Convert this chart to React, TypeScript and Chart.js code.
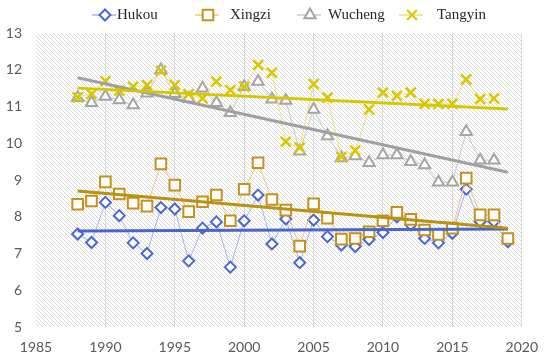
import React, { useEffect, useRef } from "react";
import { Chart, registerables } from "chart.js";

Chart.register(...registerables);

const years = [1988, 1989, 1990, 1991, 1992, 1993, 1994, 1995, 1996, 1997, 1998, 1999, 2000, 2001, 2002, 2003, 2004, 2005, 2006, 2007, 2008, 2009, 2010, 2011, 2012, 2013, 2014, 2015, 2016, 2017, 2018, 2019];

const hukou = [7.53, 7.3, 8.39, 8.03, 7.29, 7.0, 8.25, 8.21, 6.8, 7.69, 7.86, 6.63, 7.89, 8.59, 7.26, 7.94, 6.75, 7.91, 7.46, 7.23, 7.19, 7.38, 7.57, 8.0, 7.78, 7.41, 7.29, 7.55, 8.75, 7.87, 7.87, 7.32];
const xingzi = [8.34, 8.43, 8.95, 8.62, 8.37, 8.29, 9.44, 8.86, 8.14, 8.41, 8.59, 7.89, 8.75, 9.47, 8.47, 8.18, 7.2, 8.35, 7.96, 7.39, 7.41, 7.59, 7.89, 8.12, 7.93, 7.64, 7.52, 7.69, 9.05, 8.05, 8.05, 7.41];
const wucheng = [11.24, 11.1, 11.27, 11.18, 11.04, 11.36, 11.99, 11.35, 11.22, 11.5, 11.1, 10.83, 11.54, 11.68, 11.2, 11.16, 9.78, 10.92, 10.2, 9.6, 9.65, 9.47, 9.68, 9.68, 9.5, 9.41, 8.94, 8.94, 10.31, 9.54, 9.54, null];
const tangyin = [11.25, 11.34, 11.69, 11.43, 11.54, 11.58, 11.97, 11.58, 11.34, 11.22, 11.68, 11.45, 11.54, 12.13, 11.92, 10.04, 9.88, 11.61, 11.24, 9.63, 9.8, 10.92, 11.38, 11.29, 11.38, 11.07, 11.07, 11.07, 11.74, 11.2, 11.22, null];

const trendYears = [1988, 2019];
const trendHukou = [7.61, 7.67];
const trendXingzi = [8.7, 7.69];
const trendWucheng = [11.78, 9.21];
const trendTangyin = [11.5, 10.93];

const seriesNames = ["Hukou", "Xingzi", "Wucheng", "Tangyin"];
const xTicks = [1985, 1990, 1995, 2000, 2005, 2010, 2015, 2020];
const yTicks = [5, 6, 7, 8, 9, 10, 11, 12, 13];

const markerColors = ["#4A68D0", "#C4921C", "#A5A5A5", "#D8C800"];
const thinColors = ["#A3B4EA", "#F0C48C", "#CACACA", "#EDE27E"];
const trendColors = ["#4A66CC", "#B8930E", "#A0A0A0", "#D6C800"];
const pointStyles = ["rectRot", "rect", "triangle", "crossRot"];
const pointRadii = [5.5, 7.5, 6.5, 7];

const legendLineX = [92, 195, 297, 399];
const legendTextX = [117, 230, 328, 437];

function toPts(vals: (number | null)[], xs: number[]) {
  const out: { x: number; y: number }[] = [];
  vals.forEach((v, i) => {
    if (v !== null) out.push({ x: xs[i], y: v });
  });
  return out;
}

function drawMarker(ctx: CanvasRenderingContext2D, i: number, x: number, y: number) {
  ctx.save();
  ctx.strokeStyle = markerColors[i];
  ctx.fillStyle = "#ffffff";
  ctx.lineWidth = 2;
  ctx.beginPath();
  const r = pointRadii[i];
  if (i === 0) {
    ctx.moveTo(x - r, y);
    ctx.lineTo(x, y - r);
    ctx.lineTo(x + r, y);
    ctx.lineTo(x, y + r);
    ctx.closePath();
    ctx.fill();
    ctx.stroke();
  } else if (i === 1) {
    const s = Math.SQRT1_2 * r;
    ctx.rect(x - s, y - s, 2 * s, 2 * s);
    ctx.fill();
    ctx.stroke();
  } else if (i === 2) {
    ctx.moveTo(x, y - r);
    ctx.lineTo(x + Math.sin((2 * Math.PI) / 3) * r, y + 0.5 * r);
    ctx.lineTo(x - Math.sin((2 * Math.PI) / 3) * r, y + 0.5 * r);
    ctx.closePath();
    ctx.fill();
    ctx.stroke();
  } else {
    const d = Math.SQRT1_2 * r;
    ctx.moveTo(x - d, y - d);
    ctx.lineTo(x + d, y + d);
    ctx.moveTo(x + d, y - d);
    ctx.lineTo(x - d, y + d);
    ctx.stroke();
  }
  ctx.restore();
}

export default function App() {
  const ref = useRef<HTMLCanvasElement | null>(null);

  useEffect(() => {
    const canvas = ref.current;
    if (!canvas) return;

    const pc = document.createElement("canvas");
    pc.width = 4;
    pc.height = 4;
    const pctx = pc.getContext("2d")!;
    pctx.fillStyle = "#ffffff";
    pctx.fillRect(0, 0, 4, 4);
    pctx.strokeStyle = "#DADADA";
    pctx.lineWidth = 1;
    pctx.beginPath();
    pctx.moveTo(-1, -1);
    pctx.lineTo(5, 5);
    pctx.moveTo(-1, 3);
    pctx.lineTo(1, 5);
    pctx.moveTo(3, -1);
    pctx.lineTo(5, 1);
    pctx.stroke();

    const bgPlugin = {
      id: "hatchBg",
      beforeDraw(chart: any) {
        const { ctx, chartArea } = chart;
        const pat = ctx.createPattern(pc, "repeat");
        ctx.save();
        ctx.fillStyle = pat;
        ctx.fillRect(chartArea.left, chartArea.top, chartArea.right - chartArea.left, chartArea.bottom - chartArea.top);
        ctx.restore();
      },
    };

    const legendPlugin = {
      id: "customLegend",
      afterDraw(chart: any) {
        const ctx = chart.ctx as CanvasRenderingContext2D;
        const y = 15;
        seriesNames.forEach((name, i) => {
          const x0 = legendLineX[i];
          ctx.save();
          ctx.strokeStyle = thinColors[i];
          ctx.lineWidth = 1.5;
          ctx.beginPath();
          ctx.moveTo(x0, y);
          ctx.lineTo(x0 + 24, y);
          ctx.stroke();
          ctx.restore();
          drawMarker(ctx, i, x0 + 13, y);
          ctx.save();
          ctx.fillStyle = "#262626";
          ctx.font = "15px 'Liberation Serif', serif";
          ctx.textBaseline = "middle";
          ctx.textAlign = "left";
          ctx.fillText(name, legendTextX[i], y);
          ctx.restore();
        });
      },
    };

    const seriesVals = [hukou, xingzi, wucheng, tangyin];
    const trends = [trendHukou, trendXingzi, trendWucheng, trendTangyin];

    const datasets: any[] = [];
    seriesVals.forEach((vals, i) => {
      datasets.push({
        label: seriesNames[i],
        data: toPts(vals, years),
        showLine: true,
        borderColor: thinColors[i],
        borderWidth: 1,
        pointStyle: pointStyles[i],
        pointRadius: pointRadii[i],
        pointBorderColor: markerColors[i],
        pointBackgroundColor: i === 3 ? markerColors[i] : "#ffffff",
        pointBorderWidth: i === 3 ? 2.5 : 2,
        order: 10 - i,
      });
    });
    trends.forEach((t, i) => {
      datasets.push({
        label: seriesNames[i] + " trend",
        data: toPts(t, trendYears),
        showLine: true,
        borderColor: trendColors[i],
        borderWidth: 3,
        pointRadius: 0,
        order: 4 - i,
      });
    });

    const chart = new Chart(canvas, {
      type: "scatter",
      data: { datasets },
      plugins: [bgPlugin, legendPlugin],
      options: {
        responsive: false,
        animation: false,
        layout: { padding: { top: 33, right: 23, left: 0, bottom: 0 } },
        plugins: { legend: { display: false }, tooltip: { enabled: false } },
        scales: {
          x: {
            type: "linear",
            min: xTicks[0],
            max: xTicks[xTicks.length - 1],
            afterBuildTicks(scale: any) {
              scale.ticks = xTicks.map((v) => ({ value: v }));
            },
            afterFit(scale: any) {
              scale.height = 36;
            },
            grid: {
              drawTicks: false,
              color: (c: any) => (c.tick && c.tick.value === xTicks[0] ? "rgba(0,0,0,0)" : "#D9D9D9"),
              lineWidth: 1,
            },
            border: { display: false },
            ticks: {
              padding: 12,
              color: "#595959",
              font: { family: "Lato, 'Open Sans', sans-serif", size: 14 },
              callback: (v: any) => String(v),
            },
          },
          y: {
            type: "linear",
            min: yTicks[0],
            max: yTicks[yTicks.length - 1],
            afterBuildTicks(scale: any) {
              scale.ticks = yTicks.map((v) => ({ value: v }));
            },
            afterFit(scale: any) {
              scale.width = 36;
            },
            grid: { display: false, drawTicks: false },
            border: { display: false },
            ticks: {
              padding: 14,
              color: "#595959",
              font: { family: "Lato, 'Open Sans', sans-serif", size: 14 },
            },
          },
        },
      },
    });

    return () => chart.destroy();
  }, []);

  return (
    <div style={{ position: "fixed", left: 0, top: 0, width: 550, height: 363, background: "#ffffff" }}>
      <canvas ref={ref} width={550} height={363} style={{ width: 550, height: 363, display: "block" }} />
    </div>
  );
}
